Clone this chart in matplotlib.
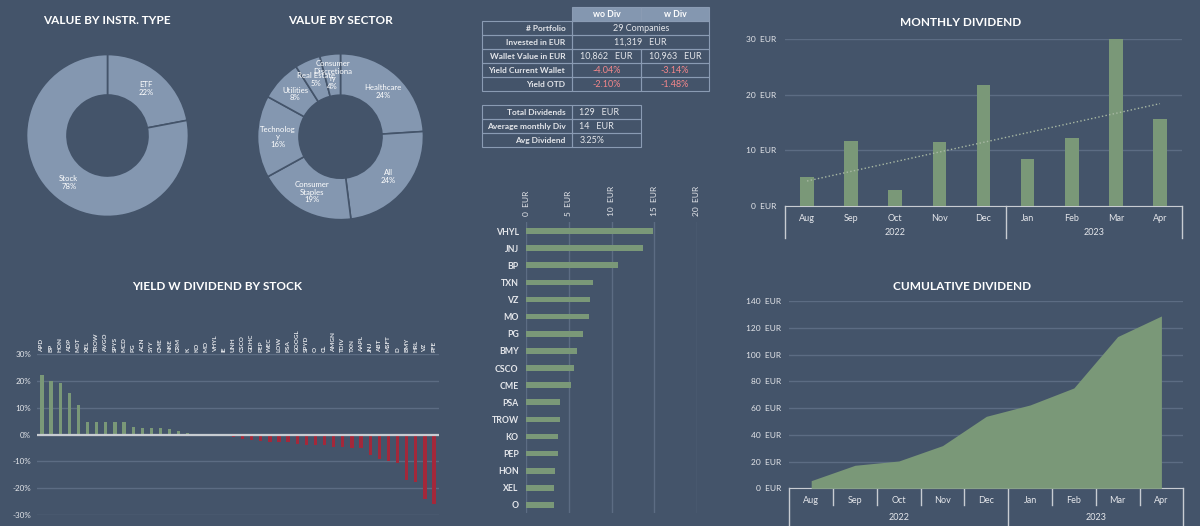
import numpy as np
import matplotlib
matplotlib.use("Agg")
import matplotlib.pyplot as plt
from matplotlib.patches import Rectangle

W, H = 1200, 526
BG = "#44546A"
RING = "#8497B0"
GREEN = "#7A9878"
RED = "#A3283A"
GRID = "#5C6C83"
AXIS = "#C8CCD2"
TXT = "#E4E6EA"
NEG = "#F4878B"
LINE = "#8A9BB3"

plt.rcParams.update({
    "font.family": ["Lato", "DejaVu Sans"], "font.size": 7,
    "text.color": TXT, "xtick.color": TXT, "ytick.color": TXT,
    "figure.facecolor": BG,
})

# ---- data -----------------------------------------------------------------
instr_labels = ["ETF", "Stock"]
instr_share = [22, 78]

sector_labels = ["Healthcare", "All", "Consumer\nStaples", "Technolog\ny",
                 "Utilities", "Real Estate", "Consumer\nDiscretiona\nry"]
sector_share = [24, 24, 19, 16, 8, 5, 4]

yield_tickers = ["APD", "BP", "HON", "ADP", "MDT", "XEL", "TROW", "AVGO", "SPYS",
                 "MCD", "PG", "ACN", "SYY", "CME", "NKE", "CRM", "K", "KO", "MO",
                 "VHYL", "IE", "UNH", "CSCO", "GDHC", "PEP", "WEC", "LOW", "PSA",
                 "GOOGL", "SPYD", "O", "CL", "AMGN", "TDIV", "TXN", "AAPL", "JNJ",
                 "ABT", "MSFT", "D", "BMY", "HRL", "VZ", "PFE"]
yield_pct = [22.3, 20.0, 19.4, 15.4, 10.9, 4.9, 4.6, 4.6, 4.6, 4.6, 2.7, 2.5,
             2.5, 2.5, 2.2, 1.2, 0.7, 0.4, -0.1, -0.4, -0.5, -0.8, -1.5, -1.9,
             -2.5, -2.9, -2.9, -2.9, -3.4, -3.7, -3.7, -4.0, -4.5, -4.5, -4.8,
             -5.0, -7.5, -9.1, -9.7, -10.6, -16.9, -17.5, -24.1, -26.0]

div_tickers = ["VHYL", "JNJ", "BP", "TXN", "VZ", "MO", "PG", "BMY", "CSCO",
               "CME", "PSA", "TROW", "KO", "PEP", "HON", "XEL", "O"]
div_eur = [14.87, 13.74, 10.72, 7.87, 7.44, 7.36, 6.65, 5.95, 5.64, 5.28,
           3.99, 3.91, 3.72, 3.72, 3.41, 3.29, 3.21]

months = ["Aug", "Sep", "Oct", "Nov", "Dec", "Jan", "Feb", "Mar", "Apr"]
years = ["2022", "2023"]
year_span = [5, 4]
monthly_div = [5.1, 11.7, 2.9, 11.4, 21.8, 8.5, 12.2, 38.4, 15.7]
trend_ends = [4.45, 18.4]
cum_div = [5.7, 17.2, 20.4, 31.9, 53.8, 62.3, 75.0, 113.4, 128.8]

tbl_head = ["wo Div", "w Div"]
tbl_rows = ["# Portfolio", "Invested in EUR", "Wallet Value in EUR",
            "Yield Current Wallet", "Yield OTD"]
tbl_wo = ["29 Companies", "11,319   EUR", "10,862   EUR", "-4.04%", "-2.10%"]
tbl_w = [None, None, "10,963   EUR", "-3.14%", "-1.48%"]
sum_rows = ["Total Dividends", "Average monthly Div", "Avg Dividend"]
sum_vals = ["129   EUR", "14   EUR", "3.25%"]

fig = plt.figure(figsize=(W / 100, H / 100), dpi=100)


def box(x0, y0, x1, y1):
    ax = fig.add_axes([x0 / W, 1 - y1 / H, (x1 - x0) / W, (y1 - y0) / H])
    ax.set_facecolor("none")
    for s in ax.spines.values():
        s.set_visible(False)
    return ax


def title(x, y, s):
    fig.text(x / W, 1 - y / H, s, ha="center", va="center", color="white",
             fontsize=8.5, fontweight="bold")


def donut(ax, shares, labels):
    _, texts = ax.pie(shares, labels=[f"{l}\n{s}%" for l, s in zip(labels, shares)],
                      startangle=90, counterclock=False, colors=[RING] * len(shares),
                      labeldistance=0.75,
                      wedgeprops=dict(width=0.5, edgecolor=BG, linewidth=1.2))
    for t in texts:
        t.set_ha("center"); t.set_va("center")
        t.set_fontsize(5.6); t.set_color("white"); t.set_linespacing(1.1)
    ax.set_xlim(-1, 1); ax.set_ylim(-1, 1)


def cat_axis(ax, depth_m, depth_y, y_year, pad):
    tr = ax.get_xaxis_transform()
    ax.set_xlim(-0.5, len(months) - 0.5)
    ax.set_xticks(range(len(months)), months)
    ax.tick_params(axis="x", length=0, pad=pad, labelsize=6.5)
    ax.spines["bottom"].set_visible(True)
    ax.spines["bottom"].set_color(AXIS)
    edges = np.concatenate([[0], np.cumsum(year_span)]) - 0.5
    for b in np.arange(len(months) + 1) - 0.5:
        d = depth_y if b in edges else depth_m
        if d:
            ax.plot([b, b], [0, -d], transform=tr, clip_on=False, color=AXIS, lw=1)
    for yr, a, b in zip(years, edges[:-1], edges[1:]):
        ax.text((a + b) / 2, y_year, yr, transform=tr, ha="center", va="center",
                fontsize=6.5)


# ---- donuts ---------------------------------------------------------------
title(107, 21, "VALUE BY INSTR. TYPE")
donut(box(26.5, 54.5, 188.5, 216.5), instr_share, instr_labels)
title(340, 21, "VALUE BY SECTOR")
donut(box(257.5, 53.7, 423.5, 219.7), sector_share, sector_labels)

# ---- table ----------------------------------------------------------------
ov = box(0, 0, W, H)
ov.set_xlim(0, W); ov.set_ylim(H, 0); ov.axis("off")
xl, xm, xs, xr = 482.3, 572.3, 640.7, 709.3
rh = 14
LFS, VFS = 6.0, 6.5


def cell(x0, y0, x1, fill="none"):
    ov.add_patch(Rectangle((x0, y0), x1 - x0, rh, facecolor=fill, edgecolor=LINE, lw=0.8))


for j, h in enumerate(tbl_head):
    a, b = (xm, xs) if j == 0 else (xs, xr)
    cell(a, 7.3, b, RING)
    ov.text((a + b) / 2, 7.3 + rh / 2, h, ha="center", va="center", color="white",
            fontweight="bold", fontsize=LFS + 0.3)
for i, lab in enumerate(tbl_rows):
    y0 = 21.3 + rh * i
    cell(xl, y0, xm)
    ov.text(xm - 7, y0 + rh / 2, lab, ha="right", va="center", fontweight="bold",
            fontsize=LFS)
    c = NEG if tbl_wo[i].startswith("-") else TXT
    if tbl_w[i] is None:
        cell(xm, y0, xr)
        ov.text((xm + xr) / 2, y0 + rh / 2, tbl_wo[i], ha="center", va="center",
                fontsize=VFS, color=c)
    else:
        cell(xm, y0, xs); cell(xs, y0, xr)
        ov.text((xm + xs) / 2, y0 + rh / 2, tbl_wo[i], ha="center", va="center",
                fontsize=VFS, color=c)
        ov.text((xs + xr) / 2, y0 + rh / 2, tbl_w[i], ha="center", va="center",
                fontsize=VFS, color=c)
for i, lab in enumerate(sum_rows):
    y0 = 105.3 + rh * i
    cell(xl, y0, xm); cell(xm, y0, xs)
    ov.text(xm - 7, y0 + rh / 2, lab, ha="right", va="center", fontweight="bold",
            fontsize=LFS)
    ov.text(xm + 7, y0 + rh / 2, sum_vals[i], ha="left", va="center", fontsize=VFS)

# ---- yield by stock -------------------------------------------------------
title(217, 287, "YIELD W DIVIDEND BY STOCK")
ax = box(36.7, 354.3, 439, 515)
x = np.arange(len(yield_tickers))
ax.bar(x, yield_pct, width=0.36, zorder=3,
       color=[GREEN if v >= 0 else RED for v in yield_pct])
ax.set_ylim(-30, 30)
ax.set_xlim(-0.58, len(x) - 1 + 0.55)
ax.set_yticks(range(-30, 31, 10))
ax.yaxis.set_major_formatter(lambda v, p: f"{v:.0f}%")
ax.grid(axis="y", color=GRID, lw=1)
ax.axhline(0, color=AXIS, lw=1.6, zorder=4)
ax.xaxis.tick_top()
ax.set_xticks(x, yield_tickers, rotation=90, fontweight="bold")
ax.tick_params(length=0, labelsize=5.8)
ax.tick_params(axis="x", labelsize=4.6, pad=1.5)
ax.tick_params(axis="y", pad=4)

# ---- dividend by stock ----------------------------------------------------
ax = box(526.3, 222, 696.7, 513)
y = np.arange(len(div_tickers))
ax.barh(y, div_eur, height=0.33, color=GREEN, zorder=3)
ax.set_xlim(0, 20)
ax.set_ylim(len(y) - 0.53, -0.53)
ax.set_xticks(range(0, 21, 5))
ax.xaxis.set_major_formatter(lambda v, p: f"{v:.0f}  EUR")
ax.xaxis.tick_top()
ax.set_yticks(y, div_tickers, fontweight="bold")
ax.grid(axis="x", color=GRID, lw=1)
ax.tick_params(length=0, labelsize=6.3)
ax.tick_params(axis="x", rotation=90, pad=4.3, labelsize=6)
ax.tick_params(axis="y", pad=5.5)

# ---- monthly dividend -----------------------------------------------------
title(961, 22, "MONTHLY DIVIDEND")
ax = box(785, 39.3, 1182, 205.7)
m = np.arange(len(months))
ax.bar(m, monthly_div, width=0.31, color=GREEN, zorder=3)
ax.plot([m[0], m[-1]], trend_ends, ls=":", color="#A8B8A4", lw=1, zorder=4)
ax.set_ylim(0, 30)
ax.set_yticks(range(0, 31, 10))
ax.yaxis.set_major_formatter(lambda v, p: f"{v:.0f}  EUR")
ax.grid(axis="y", color=GRID, lw=1)
ax.tick_params(axis="y", length=0, labelsize=6, pad=6)
cat_axis(ax, 0, 0.195, -0.164, 5.8)

# ---- cumulative dividend --------------------------------------------------
title(961.7, 287, "CUMULATIVE DIVIDEND")
ax = box(789.3, 301, 1183.3, 488.3)
ax.fill_between(m, cum_div, color=GREEN, lw=0, zorder=3)
ax.set_ylim(0, 140)
ax.set_yticks(range(0, 141, 20))
ax.yaxis.set_major_formatter(lambda v, p: f"{v:.0f}  EUR")
ax.grid(axis="y", color=GRID, lw=1)
ax.tick_params(axis="y", length=0, labelsize=6, pad=6)
cat_axis(ax, 0.089, 0.21, -0.157, 5.8)

fig.savefig("out.png", dpi=100, facecolor=BG)
